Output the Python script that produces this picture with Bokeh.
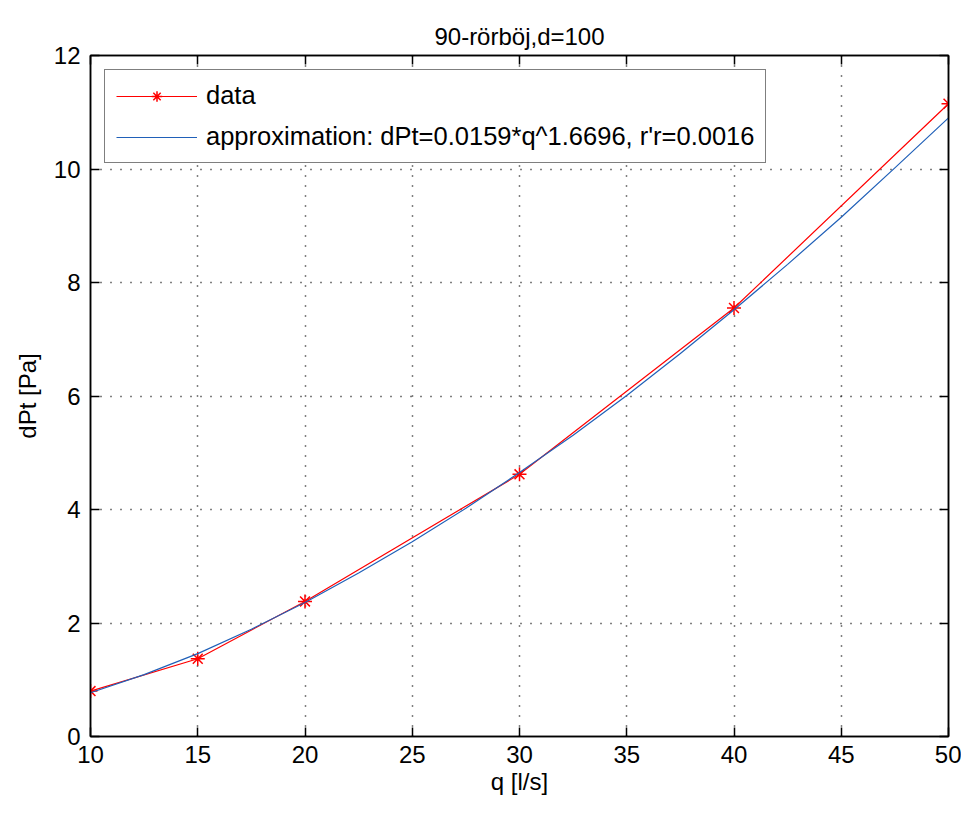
from bokeh.plotting import figure
from bokeh.models import Range1d, LinearAxis, FixedTicker, Legend, LegendItem
from bokeh.embed import file_html
from bokeh.resources import INLINE

# data
q_data = [10, 15, 20, 30, 40, 50]
dpt_data = [0.80, 1.37, 2.38, 4.62, 7.55, 11.15]

q_fit = [10, 12.5, 15, 17.5, 20, 22.5, 25, 27.5, 30, 32.5, 35, 37.5, 40, 42.5, 45, 47.5, 50]
dpt_fit = [0.77, 1.09, 1.46, 1.89, 2.36, 2.88, 3.43, 4.02, 4.65, 5.31, 6.01, 6.75, 7.52, 8.32, 9.15, 10.02, 10.90]

x_ticks = [10, 15, 20, 25, 30, 35, 40, 45, 50]
y_ticks = [0, 2, 4, 6, 8, 10, 12]

title_text = "90-rörböj,d=100"
x_label = "q [l/s]"
y_label = "dPt [Pa]"
legend_data = "data"
legend_fit = "approximation: dPt=0.0159*q^1.6696, r'r=0.0016"

FONT = "Liberation Sans"
FS = "24px"
RED = "#ff0000"
BLUE = "#2060b8"

p = figure(width=961, height=798, output_backend="svg", toolbar_location=None,
           x_range=Range1d(10, 50), y_range=Range1d(0, 12),
           min_border_left=90, min_border_right=13, min_border_top=55, min_border_bottom=62)

p.title.text = title_text
p.title.align = "center"
p.title.text_font = FONT
p.title.text_font_size = FS
p.title.text_font_style = "normal"
p.title.text_color = "#000000"
p.title.offset = 0
p.title.standoff = 12

p.outline_line_color = "black"
p.outline_line_width = 1.5
p.background_fill_color = "white"
p.border_fill_color = "white"

for ax in p.xaxis:
    ax.ticker = FixedTicker(ticks=x_ticks)
for ax in p.yaxis:
    ax.ticker = FixedTicker(ticks=y_ticks)

def style_axis(ax):
    ax.axis_line_color = "black"
    ax.axis_line_width = 1.5
    ax.major_tick_line_color = "black"
    ax.major_tick_line_width = 1.5
    ax.major_tick_in = 9
    ax.major_tick_out = 0
    ax.minor_tick_line_color = None
    ax.major_label_text_font = FONT
    ax.major_label_text_font_size = FS
    ax.major_label_text_color = "black"
    ax.axis_label_text_font = FONT
    ax.axis_label_text_font_size = FS
    ax.axis_label_text_font_style = "normal"
    ax.axis_label_text_color = "black"

for ax in p.xaxis:
    style_axis(ax)
    ax.axis_label = x_label
    ax.major_label_standoff = 9
    ax.axis_label_standoff = 2
for ax in p.yaxis:
    style_axis(ax)
    ax.axis_label = y_label
    ax.major_label_standoff = 10
    ax.axis_label_standoff = 10

top = LinearAxis(ticker=FixedTicker(ticks=x_ticks))
style_axis(top)
top.major_label_text_font_size = "1px"
top.major_label_text_color = None
top.major_label_standoff = 0
right = LinearAxis(ticker=FixedTicker(ticks=y_ticks))
style_axis(right)
right.major_label_text_font_size = "1px"
right.major_label_text_color = None
right.major_label_standoff = 0
p.add_layout(top, "above")
p.add_layout(right, "right")

p.xgrid.ticker = FixedTicker(ticks=x_ticks)
p.ygrid.ticker = FixedTicker(ticks=y_ticks)
p.grid.grid_line_color = "black"
p.grid.grid_line_dash = "1 9"
p.grid.grid_line_width = 1.5

l_data = p.line(q_data, dpt_data, line_color=RED, line_width=1.2)
m_data = p.scatter(q_data, dpt_data, marker="asterisk", size=14, line_color=RED, line_width=1.5)
l_fit = p.line(q_fit, dpt_fit, line_color=BLUE, line_width=1.2)

legend = Legend(items=[LegendItem(label=legend_data, renderers=[l_data, m_data]),
                       LegendItem(label=legend_fit, renderers=[l_fit])],
                location="top_left")
legend.margin = 14
legend.padding = 11
legend.spacing = 12
legend.glyph_width = 81
legend.glyph_height = 26
legend.label_height = 26
legend.label_standoff = 9
legend.label_text_font = FONT
legend.label_text_font_size = "25.5px"
legend.label_text_color = "black"
legend.border_line_color = "black"
legend.border_line_width = 1.5
legend.background_fill_color = "white"
legend.background_fill_alpha = 1
p.add_layout(legend, "center")

open("out.html", "w").write(file_html(p, INLINE))
